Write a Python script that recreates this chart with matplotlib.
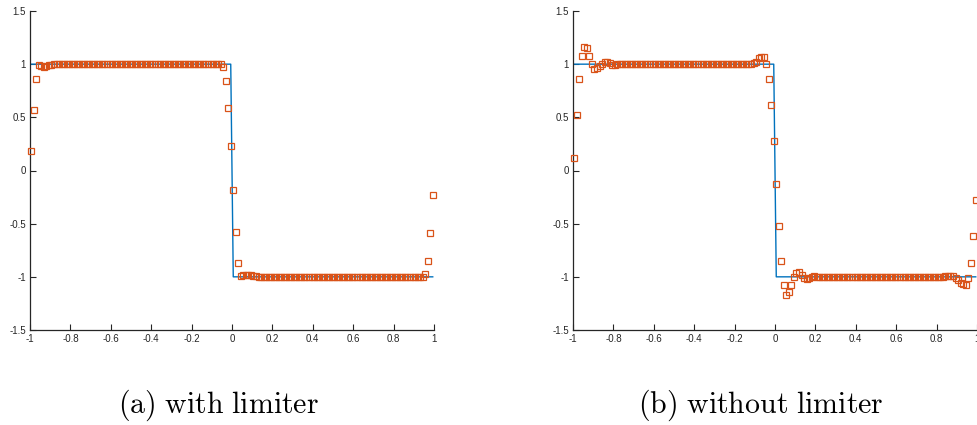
import numpy as np
import matplotlib
matplotlib.use("Agg")
import matplotlib.pyplot as plt

plt.rcParams['axes.unicode_minus'] = False
plt.rcParams['mathtext.fontset'] = 'cm'
plt.rcParams['font.family'] = ['Liberation Sans', 'DejaVu Sans']

# cell centres of the 160-cell grid on [-1, 1]
x_grid = np.linspace(-0.99375, 0.99375, 160)

# exact solution sampled on the grid
exact = [1.0] * 80 + [-1.0] * 80

# (a) with limiter
lim_left = [0.18, 0.57, 0.86, 0.99, 0.98, 0.975, 0.98, 0.99, 0.995]
lim_mid = [0.97, 0.84, 0.59, 0.23, -0.18, -0.58, -0.87, -0.99,
           -0.985, -0.98, -0.98, -0.985, -0.99, -0.995]
lim_right = [-0.97, -0.85, -0.59, -0.23]
with_limiter = lim_left + [1.0] * 67 + lim_mid + [-1.0] * 66 + lim_right

# (b) without limiter
nl_left = [0.12, 0.52, 0.86, 1.075, 1.165, 1.15, 1.075, 1.0, 0.957,
           0.96, 0.98, 1.0, 1.02, 1.02, 1.01, 0.995, 0.995, 1.0]
nl_mid = [1.005, 1.01, 1.025, 1.056, 1.072, 1.066, 1.0, 0.863, 0.618,
          0.28, -0.124, -0.525, -0.854, -1.08, -1.167, -1.146, -1.08,
          -1.005, -0.96, -0.955, -0.98, -1.008, -1.017, -1.011, -1.0, -0.995]
nl_right = [-0.995, -0.99, -0.99, -0.995, -1.01, -1.03, -1.055, -1.07,
            -1.075, -1.01, -0.87, -0.62, -0.28]
without_limiter = nl_left + [1.0] * 52 + nl_mid + [-1.0] * 51 + nl_right

xticks = [-1, -0.8, -0.6, -0.4, -0.2, 0, 0.2, 0.4, 0.6, 0.8, 1]
xtick_labels = ['-1', '-0.8', '-0.6', '-0.4', '-0.2', '0', '0.2', '0.4', '0.6', '0.8', '1']
yticks = [-1.5, -1, -0.5, 0, 0.5, 1, 1.5]
ytick_labels = ['-1.5', '-1', '-0.5', '0', '0.5', '1', '1.5']
captions = ['(a) with limiter', '(b) without limiter']

W, H = 977, 425
fig = plt.figure(figsize=(W / 100, H / 100), dpi=100)

ax_w = 404 / W
ax_b = 1 - 330 / H
ax_h = 319 / H
lefts = [30 / W, 573 / W]
caption_x = [218 / W, 761 / W]

for left, cx, ydata, cap in zip(lefts, caption_x,
                                [with_limiter, without_limiter], captions):
    ax = fig.add_axes([left, ax_b, ax_w, ax_h])
    ax.plot(x_grid, exact, color='#0072BD', lw=1.0, zorder=2)
    ax.plot(x_grid, ydata, ls='none', marker='s', ms=3.7, mfc='none',
            mec='#D95319', mew=0.9, zorder=3, clip_on=False)
    ax.set_xlim(-1, 1)
    ax.set_ylim(-1.5, 1.5)
    ax.set_xticks(xticks)
    ax.set_xticklabels(xtick_labels)
    ax.set_yticks(yticks)
    ax.set_yticklabels(ytick_labels)
    for s in ['top', 'right']:
        ax.spines[s].set_visible(False)
    for s in ['left', 'bottom']:
        ax.spines[s].set_color('#262626')
        ax.spines[s].set_linewidth(0.9)
    ax.tick_params(direction='in', length=4, width=0.8, colors='#262626',
                   labelsize=7, pad=3)
    label = r'$\mathrm{' + cap.replace(' ', r'\ ') + '}$'
    fig.text(cx, 1 - 405 / H, label, ha='center', va='center', fontsize=21.5)

fig.savefig('out.png', dpi=100)
